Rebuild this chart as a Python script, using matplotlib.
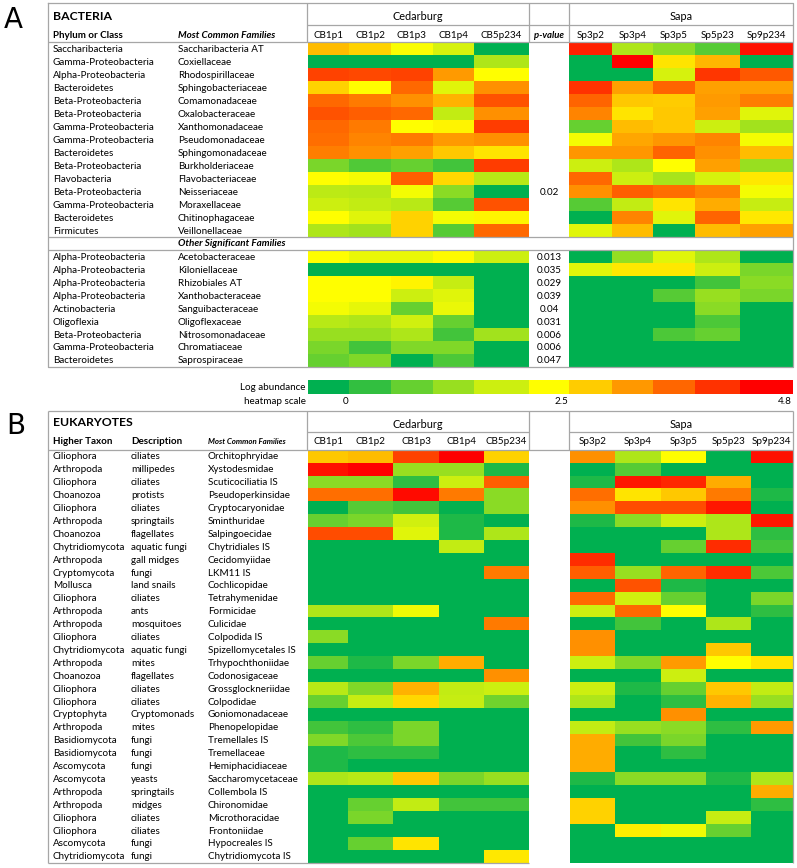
import numpy as np
import matplotlib
matplotlib.use("Agg")
import matplotlib.pyplot as plt
from matplotlib.colors import LinearSegmentedColormap, TwoSlopeNorm

# ---- data (log abundance) ----
bac_phylum = ["Saccharibacteria", "Gamma-Proteobacteria", "Alpha-Proteobacteria", "Bacteroidetes",
              "Beta-Proteobacteria", "Beta-Proteobacteria", "Gamma-Proteobacteria", "Gamma-Proteobacteria",
              "Bacteroidetes", "Beta-Proteobacteria", "Flavobacteria", "Beta-Proteobacteria",
              "Gamma-Proteobacteria", "Bacteroidetes", "Firmicutes"]
bac_family = ["Saccharibacteria AT", "Coxiellaceae", "Rhodospirillaceae", "Sphingobacteriaceae",
              "Comamonadaceae", "Oxalobacteraceae", "Xanthomonadaceae", "Pseudomonadaceae",
              "Sphingomonadaceae", "Burkholderiaceae", "Flavobacteriaceae", "Neisseriaceae",
              "Moraxellaceae", "Chitinophagaceae", "Veillonellaceae"]
bac_pvalue = ["", "", "", "", "", "", "", "", "", "", "", "0.02", "", "", ""]
bac_ced = [[3.1, 2.9, 2.45, 2.1, 0], [0, 0, 0, 0, 1.7], [4.2, 4.15, 4.2, 3.4, 2.5],
           [2.9, 2.5, 3.85, 2.2, 3.5], [3.85, 3.7, 3.5, 3.2, 4.05], [4.05, 3.95, 3.85, 1.9, 3.5],
           [3.85, 3.7, 2.5, 2.6, 4.25], [3.8, 3.6, 3.7, 3.4, 3.5], [3.65, 3.5, 3.35, 3.0, 2.75],
           [1.2, 0.8, 1.0, 0.65, 4.25], [2.5, 2.4, 3.95, 2.85, 1.8], [1.85, 1.8, 2.4, 1.35, 0],
           [2.0, 1.9, 1.8, 0.85, 4.05], [2.5, 2.2, 2.9, 2.4, 2.6], [1.7, 1.6, 2.9, 0.85, 3.85]]
bac_sapa = [[4.5, 1.7, 1.4, 0.85, 4.65], [0, 4.8, 2.75, 3.15, 0], [0, 0, 2.1, 4.3, 4.0],
            [4.35, 3.35, 3.9, 3.35, 3.35], [3.9, 3.0, 2.95, 3.4, 3.65], [3.6, 2.75, 3.0, 3.35, 2.2],
            [1.0, 3.1, 3.0, 2.0, 1.6], [2.4, 3.3, 3.45, 3.6, 2.4], [3.45, 3.45, 3.9, 3.5, 3.1],
            [2.0, 1.7, 2.5, 3.35, 1.5], [3.85, 2.0, 1.65, 2.1, 2.7], [3.5, 3.95, 3.8, 3.6, 2.4],
            [0.85, 1.9, 2.75, 3.25, 1.95], [0, 3.6, 2.2, 3.9, 2.7], [2.2, 3.1, 0, 3.1, 3.35]]

oth_phylum = ["Alpha-Proteobacteria", "Alpha-Proteobacteria", "Alpha-Proteobacteria", "Alpha-Proteobacteria",
              "Actinobacteria", "Oligoflexia", "Beta-Proteobacteria", "Gamma-Proteobacteria", "Bacteroidetes"]
oth_family = ["Acetobacteraceae", "Kiloniellaceae", "Rhizobiales AT", "Xanthobacteraceae",
              "Sanguibacteraceae", "Oligoflexaceae", "Nitrosomonadaceae", "Chromatiaceae", "Saprospiraceae"]
oth_pvalue = ["0.013", "0.035", "0.029", "0.039", "0.04", "0.031", "0.006", "0.006", "0.047"]
oth_ced = [[2.5, 2.3, 2.3, 2.55, 2.0], [0, 0, 0, 0, 0], [2.5, 2.5, 2.6, 1.95, 0],
           [2.5, 2.5, 2.0, 2.2, 0], [2.4, 2.25, 1.0, 2.3, 0], [1.8, 1.7, 2.05, 1.0, 0],
           [1.5, 1.5, 1.7, 0.65, 1.6], [1.2, 0.65, 1.25, 1.25, 0], [1.0, 1.25, 0, 0.75, 0]]
oth_sapa = [[0, 1.45, 2.2, 1.7, 0], [2.2, 2.7, 2.7, 2.0, 1.2], [0, 0, 0, 0.65, 1.35],
            [0, 0, 0.85, 1.5, 1.2], [0, 0, 0, 1.35, 0], [0, 0, 0, 0.75, 0],
            [0, 0, 0.75, 1.0, 0], [0, 0, 0, 0, 0], [0, 0, 0, 0, 0]]

euk_taxon = ["Ciliophora", "Arthropoda", "Ciliophora", "Choanozoa", "Ciliophora", "Arthropoda",
             "Choanozoa", "Chytridiomycota", "Arthropoda", "Cryptomycota", "Mollusca", "Ciliophora",
             "Arthropoda", "Arthropoda", "Ciliophora", "Chytridiomycota", "Arthropoda", "Choanozoa",
             "Ciliophora", "Ciliophora", "Cryptophyta", "Arthropoda", "Basidiomycota", "Basidiomycota",
             "Ascomycota", "Ascomycota", "Arthropoda", "Arthropoda", "Ciliophora", "Ciliophora",
             "Ascomycota", "Chytridiomycota"]
euk_desc = ["ciliates", "millipedes", "ciliates", "protists", "ciliates", "springtails",
            "flagellates", "aquatic fungi", "gall midges", "fungi", "land snails", "ciliates",
            "ants", "mosquitoes", "ciliates", "aquatic fungi", "mites", "flagellates",
            "ciliates", "ciliates", "Cryptomonads", "mites", "fungi", "fungi",
            "fungi", "yeasts", "springtails", "midges", "ciliates", "ciliates",
            "fungi", "fungi"]
euk_family = ["Orchitophryidae", "Xystodesmidae", "Scuticociliatia IS", "Pseudoperkinsidae",
              "Cryptocaryonidae", "Sminthuridae", "Salpingoecidae", "Chytridiales IS",
              "Cecidomyiidae", "LKM11 IS", "Cochlicopidae", "Tetrahymenidae",
              "Formicidae", "Culicidae", "Colpodida IS", "Spizellomycetales IS",
              "Trhypochthoniidae", "Codonosigaceae", "Grossglockneriidae", "Colpodidae",
              "Goniomonadaceae", "Phenopelopidae", "Tremellales IS", "Tremellaceae",
              "Hemiphacidiaceae", "Saccharomycetaceae", "Collembola IS", "Chironomidae",
              "Microthoracidae", "Frontoniidae", "Hypocreales IS", "Chytridiomycota IS"]
euk_ced = [[3.0, 3.1, 4.2, 4.8, 2.9], [4.65, 4.8, 1.5, 1.5, 0.3], [1.35, 1.35, 0.45, 2.0, 3.95],
           [3.8, 3.8, 4.7, 3.7, 1.35], [0, 0.85, 0.65, 0.05, 1.35], [1.0, 1.2, 2.05, 0.3, 0],
           [4.1, 4.1, 2.2, 0.3, 1.7], [0, 0, 0, 1.9, 0], [0, 0, 0, 0, 0],
           [0, 0, 0, 0, 3.7], [0, 0, 0, 0, 0], [0, 0, 0, 0, 0],
           [1.7, 1.7, 2.35, 0, 0], [0, 0, 0, 0, 3.7], [1.35, 0, 0, 0, 0],
           [0, 0, 0, 0, 0], [1.0, 0.3, 1.2, 3.25, 0], [0, 0, 0, 0, 3.5],
           [1.8, 1.25, 3.2, 1.9, 2.0], [1.0, 1.95, 2.85, 1.95, 1.1], [0, 0, 0, 0, 0],
           [0.65, 0.45, 1.2, 0, 0], [1.25, 0.75, 1.2, 0, 0], [0.3, 0.45, 0.45, 0, 0],
           [0.3, 0, 0, 0, 0], [1.7, 1.8, 3.0, 1.2, 1.5], [0, 0, 0, 0, 0],
           [0, 1.0, 1.9, 0.65, 0.65], [0, 1.2, 0, 0, 0], [0, 0, 0, 0, 0],
           [0, 1.0, 2.75, 0, 0], [0, 0, 0, 0, 2.7]]
euk_sapa = [[3.5, 1.7, 2.5, 0, 4.65], [0, 0.85, 0, 0, 0], [0.3, 4.6, 4.45, 3.25, 0],
            [3.8, 2.75, 3.0, 3.7, 0.3], [3.5, 4.1, 4.1, 4.6, 0], [0.3, 1.35, 2.0, 1.7, 4.6],
            [0, 0, 0, 1.7, 0.45], [0, 0, 1.0, 4.4, 0.65], [4.4, 0, 0, 0, 0],
            [3.95, 1.5, 3.9, 4.4, 0.75], [0, 4.05, 0.3, 0, 0], [3.85, 2.05, 1.0, 0, 1.2],
            [2.0, 3.85, 2.5, 0, 0.45], [0, 0.65, 0, 1.7, 0], [3.5, 0, 0, 0, 0],
            [3.5, 0, 0, 3.0, 0], [2.0, 1.25, 3.4, 2.5, 2.75], [0, 0, 2.0, 0, 0],
            [2.0, 0.3, 1.0, 3.0, 1.9], [1.7, 0, 0.45, 3.2, 1.5], [0, 0, 3.5, 0, 0],
            [1.9, 1.5, 1.35, 0.45, 3.4], [3.25, 0.65, 1.2, 0, 0], [3.25, 0, 0.45, 0, 0],
            [3.25, 0, 0, 0, 0], [0.3, 1.35, 1.35, 0.3, 1.7], [0, 0, 0, 0, 3.25],
            [2.9, 0, 0, 0, 0.45], [2.9, 0, 0, 1.95, 0], [0, 2.65, 2.35, 1.0, 0],
            [0, 0, 0, 0, 0], [0, 0, 0, 0, 0]]

ced_samples = ["CB1p1", "CB1p2", "CB1p3", "CB1p4", "CB5p234"]
sapa_samples = ["Sp3p2", "Sp3p4", "Sp3p5", "Sp5p23", "Sp9p234"]
scale_values = [0, 0.5, 1.0, 1.5, 2.0, 2.5, 2.96, 3.42, 3.88, 4.34, 4.8]
scale_labels = {0: "0", 5: "2.5", 10: "4.8"}

# ---- layout (pixels) ----
W, H = 797, 868
LINE = "#A6A6A6"
bac_ced_x = [308, 349.3, 391, 432.7, 474.3, 528.7]
bac_sapa_x = [569.3, 611.7, 653.3, 695, 740, 793]
euk_ced_x = [308, 348.3, 393.3, 438.7, 484, 528.7]
euk_sapa_x = [570, 615, 660.7, 706, 750.7, 793]

cmap = LinearSegmentedColormap.from_list("gyr", ["#00B050", "#FFFF00", "#FF0000"])
norm = TwoSlopeNorm(vmin=0, vcenter=2.5, vmax=4.8)

plt.rcParams['font.family'] = ['Lato', 'DejaVu Sans']
FS = 7.1

fig = plt.figure(figsize=(W / 100, H / 100), dpi=100)
ax = fig.add_axes([0, 0, 1, 1])
ax.set_xlim(0, W)
ax.set_ylim(H, 0)
ax.axis("off")


def hline(y, x0, x1):
    ax.plot([x0, x1], [y, y], color=LINE, lw=0.9, solid_capstyle="butt")


def vline(x, y0, y1):
    ax.plot([x, x], [y0, y1], color=LINE, lw=0.9, solid_capstyle="butt")


def block(xe, y0, rh, data):
    ye = y0 + rh * np.arange(len(data) + 1)
    ax.pcolormesh(xe, ye, np.array(data), cmap=cmap, norm=norm, shading="flat")
    return ye


def center(edges):
    return [(a + b) / 2 for a, b in zip(edges[:-1], edges[1:])]


# ================= A: bacteria =================
ax.text(13, 20, "A", fontsize=20, ha="center", va="center", family="DejaVu Sans")
ax.plot([48, 793, 793, 48, 48], [3, 3, 367, 367, 3], color=LINE, lw=0.9)
for x in (307, 529, 569):
    vline(x, 3, 42)
hline(25, 307, 793)
hline(42, 48, 793)
ax.text(53, 16, "BACTERIA", fontsize=8.8, fontweight="bold", va="center")
ax.text(418, 16.5, "Cedarburg", fontsize=FS + 0.7, ha="center", va="center")
ax.text(681, 16.5, "Sapa", fontsize=FS + 0.7, ha="center", va="center")
ax.text(53, 35, "Phylum or Class", fontsize=FS, fontweight="bold", va="center")
ax.text(178, 35, "Most Common Families", fontsize=FS, fontweight="bold", style="italic", va="center")
ax.text(549, 35, "p-value", fontsize=FS - 0.3, fontweight="bold", style="italic", ha="center", va="center")
for xc, s in zip(center(bac_ced_x), ced_samples):
    ax.text(xc, 35, s, fontsize=FS, ha="center", va="center")
for xc, s in zip(center(bac_sapa_x), sapa_samples):
    ax.text(xc, 35, s, fontsize=FS, ha="center", va="center")

ye = block(bac_ced_x, 42, 13.02, bac_ced)
block(bac_sapa_x, 42, 13.02, bac_sapa)
for yc, p, f, pv in zip(center(ye), bac_phylum, bac_family, bac_pvalue):
    ax.text(53, yc + 0.8, p, fontsize=FS, va="center")
    ax.text(178, yc + 0.8, f, fontsize=FS, va="center")
    if pv:
        ax.text(549, yc + 0.8, pv, fontsize=FS, ha="center", va="center")

hline(237.3, 48, 793)
hline(250, 48, 793)
ax.text(178, 244, "Other Significant Families", fontsize=FS, fontweight="bold", style="italic", va="center")

ye = block(bac_ced_x, 250, 12.96, oth_ced)
block(bac_sapa_x, 250, 12.96, oth_sapa)
for yc, p, f, pv in zip(center(ye), oth_phylum, oth_family, oth_pvalue):
    ax.text(53, yc + 0.8, p, fontsize=FS, va="center")
    ax.text(178, yc + 0.8, f, fontsize=FS, va="center")
    ax.text(549, yc + 0.8, pv, fontsize=FS, ha="center", va="center")

# colour scale
scale_x = bac_ced_x + bac_sapa_x
ax.pcolormesh(scale_x, [380.3, 393.7], np.array([scale_values]), cmap=cmap, norm=norm, shading="flat")
ax.text(306, 388, "Log abundance", fontsize=FS, ha="right", va="center")
ax.text(306, 401.5, "heatmap scale", fontsize=FS, ha="right", va="center")
for i, lab in scale_labels.items():
    ax.text(scale_x[i + 1] - 1, 401.5, lab, fontsize=FS, ha="right", va="center")

# ================= B: eukaryotes =================
ax.text(16, 426, "B", fontsize=20, ha="center", va="center", family="DejaVu Sans")
hline(410.7, 48, 793)
vline(48, 410.7, 862.7)
vline(793, 410.7, 862.7)
hline(862.7, 48, 529)
for x in (307, 529, 569):
    vline(x, 410.7, 449.7)
hline(432.3, 307, 529)
hline(432.3, 569, 793)
hline(449.7, 48, 793)
ax.text(53, 423, "EUKARYOTES", fontsize=8.8, fontweight="bold", va="center")
ax.text(418, 424, "Cedarburg", fontsize=FS + 0.7, ha="center", va="center")
ax.text(681, 424, "Sapa", fontsize=FS + 0.7, ha="center", va="center")
ax.text(53, 442, "Higher Taxon", fontsize=FS, fontweight="bold", va="center")
ax.text(131, 442, "Description", fontsize=FS, fontweight="bold", va="center")
ax.text(208, 442, "Most Common Families", fontsize=FS - 1.4, fontweight="bold", style="italic", va="center")
for xc, s in zip(center(euk_ced_x), ced_samples):
    ax.text(xc, 442, s, fontsize=FS, ha="center", va="center")
for xc, s in zip(center(euk_sapa_x), sapa_samples):
    ax.text(xc, 442, s, fontsize=FS, ha="center", va="center")

ye = block(euk_ced_x, 449.7, 12.9, euk_ced)
block(euk_sapa_x, 449.7, 12.9, euk_sapa)
for yc, t, d, f in zip(center(ye), euk_taxon, euk_desc, euk_family):
    ax.text(53, yc + 0.8, t, fontsize=FS, va="center")
    ax.text(131, yc + 0.8, d, fontsize=FS, va="center")
    ax.text(208, yc + 0.8, f, fontsize=FS, va="center")

fig.savefig("out.png", dpi=100)
plt.close(fig)
